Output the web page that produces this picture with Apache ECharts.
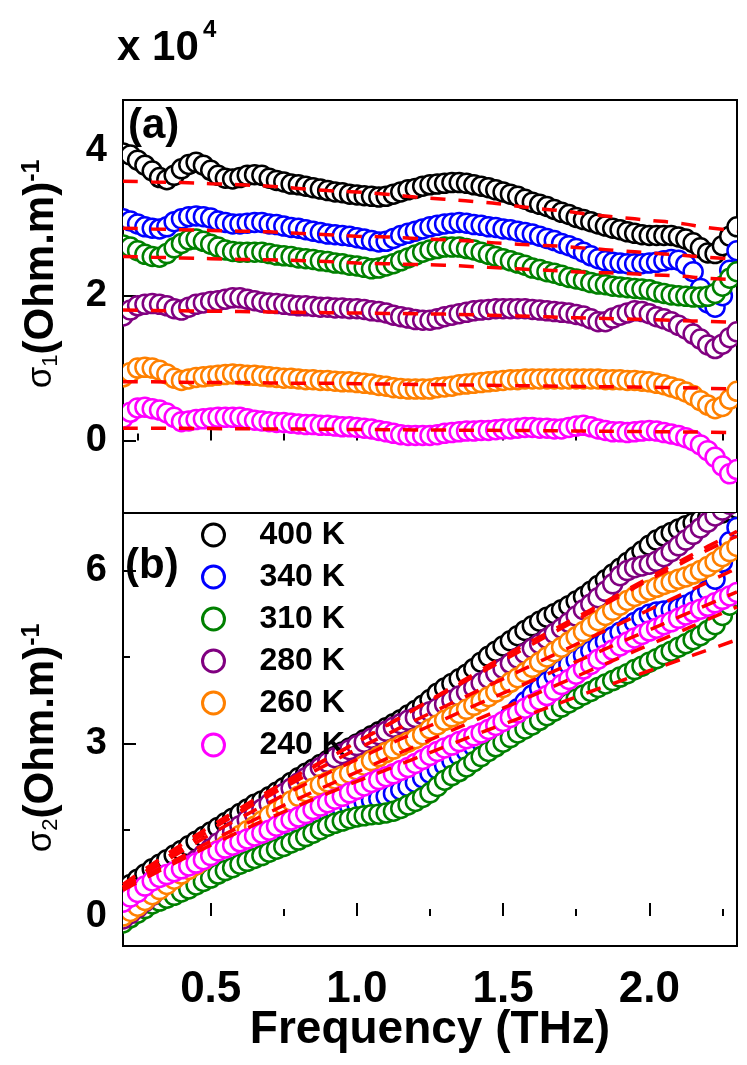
<!DOCTYPE html>
<html>
<head>
<meta charset="utf-8">
<script src="https://cdn.jsdelivr.net/npm/echarts@6.0.0/dist/echarts.min.js"></script>
<style>
html,body{margin:0;padding:0;background:#fff;}
#chart{width:747px;height:1065px;}
</style>
</head>
<body>
<div id="chart"></div>
<script>
// ---------- DATA ----------
const freq = [0.2,0.225,0.25,0.275,0.3,0.325,0.35,0.375,0.4,0.425,
  0.45,0.475,0.5,0.525,0.55,0.575,0.6,0.625,0.65,0.675,
  0.7,0.725,0.75,0.775,0.8,0.825,0.85,0.875,0.9,0.925,
  0.95,0.975,1.0,1.025,1.05,1.075,1.1,1.125,1.15,1.175,
  1.2,1.225,1.25,1.275,1.3,1.325,1.35,1.375,1.4,1.425,
  1.45,1.475,1.5,1.525,1.55,1.575,1.6,1.625,1.65,1.675,
  1.7,1.725,1.75,1.775,1.8,1.825,1.85,1.875,1.9,1.925,
  1.95,1.975,2.0,2.025,2.05,2.075,2.1,2.125,2.15,2.175,
  2.2,2.225,2.25,2.275,2.3];
const fitFreq = [0.2,0.3,0.4,0.5,0.6,0.7,0.8,0.9,1.0,1.1,1.2,1.3,1.4,1.5,1.6,1.7,1.8,1.9,2.0,2.1,2.2,2.3];

const temps = ['400 K','340 K','310 K','280 K','260 K','240 K'];

// sigma_1 (x 10^4) panel (a)
const s1_400 = [3.97,3.94,3.87,3.80,3.72,3.63,3.60,3.66,3.75,3.81,
  3.84,3.80,3.73,3.66,3.62,3.61,3.63,3.66,3.67,3.66,
  3.62,3.59,3.57,3.54,3.53,3.51,3.49,3.47,3.45,3.43,
  3.42,3.40,3.39,3.38,3.37,3.36,3.37,3.40,3.43,3.46,
  3.48,3.51,3.53,3.54,3.55,3.56,3.56,3.55,3.53,3.51,
  3.49,3.46,3.43,3.40,3.37,3.33,3.29,3.26,3.23,3.19,
  3.15,3.12,3.08,3.05,3.02,2.99,2.96,2.93,2.91,2.88,
  2.86,2.84,2.83,2.83,2.83,2.83,2.81,2.78,2.73,2.66,
  2.59,2.58,2.69,2.82,2.95];
const s1_340 = [3.06,3.03,2.99,2.95,2.93,2.92,2.95,3.02,3.06,3.09,
  3.10,3.09,3.07,3.03,3.01,2.99,2.99,3.00,3.01,3.01,
  2.99,2.98,2.96,2.94,2.93,2.91,2.89,2.87,2.85,2.84,
  2.83,2.82,2.80,2.78,2.76,2.74,2.75,2.79,2.83,2.86,
  2.89,2.92,2.95,2.97,2.99,3.00,3.01,3.00,2.98,2.97,
  2.95,2.94,2.92,2.91,2.89,2.87,2.85,2.82,2.79,2.76,
  2.72,2.69,2.65,2.60,2.55,2.51,2.48,2.46,2.45,2.44,
  2.44,2.44,2.45,2.46,2.48,2.50,2.49,2.43,2.33,2.10,
  1.90,1.84,2.00,2.35,2.62];
const s1_310 = [2.70,2.67,2.62,2.57,2.54,2.53,2.58,2.66,2.72,2.77,
  2.78,2.75,2.71,2.67,2.63,2.61,2.60,2.60,2.60,2.60,
  2.58,2.56,2.55,2.54,2.52,2.51,2.50,2.48,2.47,2.45,
  2.44,2.42,2.41,2.39,2.37,2.38,2.41,2.44,2.48,2.52,
  2.56,2.60,2.63,2.65,2.67,2.67,2.67,2.65,2.63,2.60,
  2.57,2.54,2.51,2.48,2.45,2.42,2.38,2.36,2.33,2.31,
  2.28,2.25,2.23,2.21,2.18,2.16,2.15,2.13,2.12,2.11,
  2.10,2.09,2.08,2.05,2.03,2.01,2.00,1.99,1.98,1.98,
  1.99,2.03,2.13,2.24,2.33];
const s1_280 = [1.72,1.80,1.86,1.88,1.89,1.88,1.86,1.82,1.80,1.84,
  1.88,1.90,1.92,1.93,1.95,1.97,1.97,1.95,1.93,1.91,
  1.90,1.89,1.88,1.87,1.86,1.86,1.85,1.84,1.84,1.83,
  1.83,1.82,1.82,1.81,1.79,1.78,1.76,1.73,1.71,1.69,
  1.67,1.66,1.66,1.68,1.71,1.73,1.75,1.77,1.79,1.80,
  1.81,1.82,1.82,1.82,1.82,1.82,1.81,1.80,1.79,1.78,
  1.77,1.76,1.74,1.72,1.68,1.64,1.64,1.69,1.73,1.76,
  1.79,1.78,1.75,1.71,1.68,1.64,1.59,1.54,1.47,1.40,
  1.32,1.27,1.33,1.42,1.50];
const s1_260 = [0.88,0.94,1.00,1.01,1.00,0.97,0.92,0.86,0.83,0.85,
  0.87,0.88,0.89,0.90,0.91,0.92,0.91,0.90,0.90,0.89,
  0.88,0.87,0.86,0.86,0.85,0.84,0.84,0.83,0.83,0.82,
  0.81,0.81,0.80,0.79,0.78,0.76,0.75,0.73,0.72,0.71,
  0.71,0.71,0.71,0.73,0.74,0.75,0.77,0.78,0.79,0.80,
  0.81,0.82,0.83,0.84,0.84,0.85,0.85,0.85,0.85,0.85,
  0.85,0.85,0.85,0.85,0.85,0.85,0.84,0.84,0.84,0.83,
  0.83,0.82,0.81,0.79,0.77,0.74,0.71,0.67,0.62,0.55,
  0.49,0.44,0.47,0.57,0.68];
const s1_240 = [0.31,0.39,0.45,0.46,0.44,0.42,0.38,0.32,0.26,0.27,
  0.29,0.30,0.31,0.32,0.32,0.32,0.32,0.30,0.28,0.27,
  0.26,0.25,0.25,0.24,0.23,0.22,0.22,0.21,0.21,0.20,
  0.19,0.19,0.18,0.17,0.16,0.14,0.12,0.10,0.08,0.07,
  0.07,0.07,0.07,0.08,0.10,0.11,0.12,0.13,0.13,0.14,
  0.14,0.15,0.16,0.16,0.17,0.18,0.18,0.17,0.17,0.16,
  0.16,0.18,0.20,0.21,0.19,0.16,0.14,0.12,0.12,0.11,
  0.12,0.13,0.14,0.13,0.11,0.09,0.07,0.04,0.00,-0.06,
  -0.14,-0.23,-0.35,-0.46,-0.40];

// fits panel (a)
const f1_400 = [3.58,3.57,3.56,3.545,3.53,3.51,3.48,3.45,3.43,3.40,3.36,3.33,3.30,3.26,3.21,3.17,3.12,3.08,3.04,3.00,2.94,2.89];
const f1_340 = [2.93,2.92,2.91,2.90,2.89,2.88,2.86,2.84,2.82,2.81,2.79,2.77,2.75,2.72,2.70,2.68,2.65,2.62,2.59,2.56,2.53,2.50];
const f1_310 = [2.54,2.53,2.52,2.51,2.50,2.495,2.485,2.47,2.45,2.44,2.43,2.42,2.40,2.38,2.36,2.34,2.32,2.31,2.29,2.27,2.24,2.22];
const f1_280 = [1.80,1.795,1.79,1.785,1.78,1.775,1.77,1.765,1.76,1.755,1.75,1.745,1.735,1.725,1.715,1.70,1.69,1.68,1.67,1.655,1.645,1.63];
const f1_260 = [0.81,0.81,0.805,0.80,0.80,0.795,0.79,0.79,0.785,0.78,0.775,0.77,0.765,0.76,0.755,0.75,0.745,0.74,0.735,0.73,0.72,0.71];
const f1_240 = [0.17,0.17,0.168,0.165,0.163,0.16,0.158,0.155,0.152,0.15,0.147,0.145,0.142,0.14,0.137,0.133,0.13,0.127,0.123,0.12,0.115,0.11];

// sigma_2 (x 10^4) panel (b)
const s2_400 = [0.45,0.55,0.64,0.73,0.82,0.90,0.98,1.06,1.14,1.22,
  1.30,1.38,1.46,1.54,1.62,1.70,1.78,1.86,1.94,2.00,
  2.07,2.15,2.23,2.32,2.40,2.48,2.55,2.63,2.70,2.77,
  2.85,2.92,2.99,3.06,3.13,3.20,3.27,3.34,3.41,3.49,
  3.57,3.66,3.76,3.87,3.96,4.04,4.12,4.20,4.30,4.41,
  4.51,4.60,4.69,4.78,4.87,4.96,5.04,5.12,5.19,5.25,
  5.32,5.39,5.47,5.55,5.64,5.74,5.84,5.94,6.04,6.14,
  6.24,6.34,6.44,6.53,6.60,6.66,6.72,6.78,6.83,6.88,
  6.92,6.96,7.00,7.04,7.08];
const s2_340 = [0.22,0.29,0.36,0.45,0.53,0.59,0.65,0.71,0.77,0.83,
  0.88,0.94,1.00,1.06,1.11,1.16,1.21,1.26,1.31,1.36,
  1.41,1.46,1.51,1.56,1.61,1.66,1.70,1.75,1.79,1.83,
  1.87,1.91,1.95,1.98,2.01,2.04,2.08,2.13,2.19,2.25,
  2.32,2.40,2.48,2.55,2.62,2.70,2.78,2.86,2.94,3.03,
  3.13,3.24,3.36,3.48,3.60,3.72,3.84,3.96,4.07,4.18,
  4.28,4.37,4.45,4.53,4.61,4.69,4.77,4.85,4.93,5.01,
  5.10,5.18,5.24,5.28,5.30,5.32,5.35,5.40,5.46,5.55,
  5.66,5.85,6.15,6.50,6.75];
const s2_310 = [-0.12,-0.03,0.05,0.13,0.21,0.26,0.31,0.36,0.42,0.47,
  0.54,0.60,0.66,0.73,0.79,0.84,0.90,0.95,1.00,1.05,
  1.11,1.16,1.21,1.27,1.32,1.38,1.44,1.50,1.56,1.61,
  1.65,1.69,1.72,1.74,1.76,1.77,1.79,1.82,1.87,1.93,
  1.99,2.06,2.14,2.25,2.36,2.44,2.51,2.59,2.68,2.77,
  2.86,2.94,3.02,3.10,3.18,3.25,3.32,3.40,3.48,3.56,
  3.63,3.70,3.77,3.84,3.90,3.97,4.03,4.09,4.15,4.21,
  4.28,4.34,4.41,4.47,4.54,4.60,4.67,4.73,4.80,4.87,
  4.96,5.06,5.22,5.40,5.55];
const s2_280 = [-0.05,0.04,0.14,0.25,0.36,0.47,0.57,0.67,0.77,0.87,
  0.97,1.07,1.17,1.27,1.37,1.47,1.57,1.67,1.77,1.86,
  1.95,2.04,2.13,2.22,2.31,2.40,2.49,2.58,2.67,2.75,
  2.82,2.89,2.96,3.02,3.09,3.15,3.21,3.28,3.34,3.40,
  3.45,3.50,3.55,3.61,3.68,3.75,3.82,3.89,3.97,4.05,
  4.13,4.22,4.30,4.39,4.48,4.56,4.65,4.73,4.82,4.91,
  5.00,5.10,5.21,5.32,5.42,5.53,5.64,5.77,5.91,6.00,
  6.05,6.08,6.11,6.16,6.24,6.33,6.43,6.53,6.63,6.74,
  6.84,6.95,7.05,7.15,7.25];
const s2_260 = [0.00,0.08,0.17,0.27,0.37,0.46,0.55,0.64,0.73,0.81,
  0.89,0.97,1.06,1.14,1.22,1.31,1.40,1.48,1.56,1.65,
  1.74,1.83,1.92,2.00,2.08,2.16,2.22,2.28,2.33,2.38,
  2.43,2.48,2.54,2.62,2.70,2.77,2.84,2.90,2.96,3.02,
  3.08,3.15,3.25,3.32,3.40,3.46,3.52,3.59,3.66,3.73,
  3.81,3.89,3.97,4.06,4.14,4.23,4.32,4.41,4.50,4.59,
  4.67,4.76,4.85,4.94,5.03,5.13,5.22,5.31,5.40,5.48,
  5.55,5.61,5.66,5.71,5.76,5.80,5.85,5.89,5.94,6.00,
  6.07,6.15,6.24,6.33,6.42];
const s2_240 = [0.24,0.33,0.41,0.52,0.61,0.67,0.72,0.77,0.82,0.87,
  0.92,0.98,1.05,1.13,1.18,1.23,1.29,1.34,1.39,1.44,
  1.49,1.56,1.62,1.67,1.72,1.78,1.85,1.91,1.97,2.03,
  2.08,2.14,2.20,2.26,2.32,2.37,2.42,2.47,2.53,2.58,
  2.65,2.72,2.79,2.86,2.92,2.97,3.03,3.08,3.13,3.18,
  3.24,3.31,3.38,3.45,3.53,3.61,3.68,3.75,3.83,3.92,
  4.02,4.11,4.20,4.29,4.37,4.46,4.54,4.62,4.69,4.76,
  4.83,4.89,4.95,5.00,5.06,5.11,5.17,5.23,5.28,5.33,
  5.38,5.44,5.50,5.56,5.62];

// fits panel (b)
const f2_400 = [0.55,0.90,1.24,1.56,1.87,2.17,2.46,2.74,3.02,3.30,3.60,3.90,4.20,4.50,4.78,5.05,5.32,5.60,5.88,6.15,6.42,6.68];
const f2_340 = [0.50,0.82,1.12,1.42,1.70,1.97,2.23,2.48,2.72,2.96,3.19,3.42,3.65,3.87,4.09,4.31,4.53,4.75,4.97,5.19,5.41,5.63];
const f2_310 = [0.45,0.72,0.98,1.23,1.47,1.70,1.92,2.13,2.34,2.54,2.74,2.94,3.14,3.33,3.52,3.71,3.90,4.08,4.26,4.44,4.62,4.80];
const f2_280 = [0.50,0.85,1.18,1.50,1.82,2.13,2.43,2.73,3.02,3.31,3.60,3.88,4.16,4.44,4.72,5.00,5.28,5.56,5.84,6.10,6.36,6.60];
const f2_260 = [0.50,0.85,1.18,1.50,1.80,2.09,2.37,2.64,2.90,3.15,3.40,3.64,3.88,4.12,4.36,4.60,4.84,5.08,5.32,5.56,5.80,6.04];
const f2_240 = [0.48,0.76,1.03,1.30,1.55,1.80,2.04,2.27,2.50,2.73,2.95,3.17,3.39,3.61,3.83,4.05,4.27,4.49,4.71,4.93,5.15,5.37];

// ticks
const xMajorTicks = [0.5,1.0,1.5,2.0];
const xMinorTicks = [0.25,0.75,1.25,1.75,2.25];
const yaMajorTicks = [0,2,4];
const yaMinorTicks = [1,3];
const ybMajorTicks = [0,3,6];
const ybMinorTicks = [1.5,4.5];

// ---------- STYLE ----------
const colors = ['#000000','#0000ff','#008000','#800080','#ff8000','#ff00ff'];
const FONT = '"Liberation Sans", Arial, sans-serif';
const panelA = [s1_400,s1_340,s1_310,s1_280,s1_260,s1_240];
const panelB = [s2_400,s2_340,s2_310,s2_280,s2_260,s2_240];
const fitsA = [f1_400,f1_340,f1_310,f1_280,f1_260,f1_240];
const fitsB = [f2_400,f2_340,f2_310,f2_280,f2_260,f2_240];

function xAx(grid, ticks, len, labels) {
  return {
    type: 'value', gridIndex: grid, position: 'bottom', min: 0.2, max: 2.3,
    axisLine: {show: false}, splitLine: {show: false},
    axisTick: {show: true, inside: true, length: len, customValues: ticks, lineStyle: {color: '#000', width: 2}},
    axisLabel: {show: labels, customValues: ticks, margin: 22, formatter: v => v.toFixed(1),
      fontSize: 44, fontWeight: 'bold', color: '#000', fontFamily: FONT}
  };
}
function yAx(grid, mn, mx, ticks, len, labels) {
  return {
    type: 'value', gridIndex: grid, position: 'left', min: mn, max: mx,
    axisLine: {show: false}, splitLine: {show: false},
    axisTick: {show: true, inside: true, length: len, customValues: ticks, lineStyle: {color: '#000', width: 2}},
    axisLabel: {show: labels, customValues: ticks, margin: 16, formatter: v => String(v),
      fontSize: 38, fontWeight: 'bold', color: '#000', fontFamily: FONT}
  };
}

const series = [];
function addPanel(dataSets, fits, xi, yi) {
  dataSets.forEach((arr, k) => {
    const c = colors[k];
    series.push({
      type: 'custom', name: temps[k], xAxisIndex: xi, yAxisIndex: yi,
      clip: true, silent: true, z: 2,
      itemStyle: {color: '#ffffff', borderColor: c, borderWidth: 2.5},
      encode: {x: 0, y: 1},
      renderItem: function (params, api) {
        const p = api.coord([api.value(0), api.value(1)]);
        return {type: 'circle', shape: {cx: p[0], cy: p[1], r: 9.5},
          style: {fill: '#ffffff', stroke: c, lineWidth: 2.5}};
      },
      data: freq.map((f, i) => [f, arr[i]])
    });
  });
  fits.forEach((arr, k) => {
    series.push({
      type: 'line', name: 'fit ' + temps[k], xAxisIndex: xi, yAxisIndex: yi,
      smooth: true, symbol: 'none', silent: true, z: 5,
      lineStyle: {color: '#ff0000', width: 3.5, type: [15, 13]},
      data: fitFreq.map((f, i) => [f, arr[i]])
    });
  });
}
addPanel(panelA, fitsA, 0, 0);
addPanel(panelB, fitsB, 2, 2);

const sigTitle = (sub) => ({
  type: 'text', rotation: Math.PI / 2,
  style: {
    text: '{g|σ}{s|' + sub + '}{t|(Ohm.m)}{p|-1}',
    align: 'center', verticalAlign: 'middle',
    rich: {
      g: {fontSize: 35, fontFamily: FONT, fill: '#000', fontWeight: 'normal'},
      s: {fontSize: 22, fontFamily: FONT, fill: '#000', verticalAlign: 'bottom'},
      t: {fontSize: 42, fontFamily: FONT, fill: '#000', fontWeight: 'bold'},
      p: {fontSize: 25, fontFamily: FONT, fill: '#000', fontWeight: 'bold', verticalAlign: 'top'}
    }
  }
});

const option = {
  animation: false,
  backgroundColor: '#ffffff',
  grid: [
    {left: 123, right: 10, top: 100, height: 413, show: true, borderColor: '#000', borderWidth: 2, backgroundColor: 'transparent'},
    {left: 123, right: 10, top: 513, height: 433, show: true, borderColor: '#000', borderWidth: 2, backgroundColor: 'transparent'}
  ],
  xAxis: [
    xAx(0, xMajorTicks, 13, false), xAx(0, xMinorTicks, 7, false),
    xAx(1, xMajorTicks, 13, true), xAx(1, xMinorTicks, 7, false)
  ],
  yAxis: [
    yAx(0, -1, 4.7, yaMajorTicks, 13, true), yAx(0, -1, 4.7, yaMinorTicks, 7, false),
    yAx(1, -0.52, 7, ybMajorTicks, 13, true), yAx(1, -0.52, 7, ybMinorTicks, 7, false)
  ],
  legend: {
    data: temps, orient: 'vertical', left: 196, top: 514,
    itemWidth: 22, itemHeight: 22, itemGap: 10, icon: 'circle',
    itemStyle: {color: '#ffffff', borderWidth: 3},
    textStyle: {fontSize: 32, fontWeight: 'bold', color: '#000', fontFamily: FONT, padding: [0, 0, 0, 30]},
    selectedMode: false
  },
  graphic: [
    {type: 'text', x: 117, y: 48, style: {text: 'x 10', fontSize: 42, fontWeight: 'bold', fontFamily: FONT, fill: '#000', align: 'left', verticalAlign: 'middle'}},
    {type: 'text', x: 203, y: 30, style: {text: '4', fontSize: 24, fontWeight: 'bold', fontFamily: FONT, fill: '#000', align: 'left', verticalAlign: 'middle'}},
    Object.assign(sigTitle('1'), {x: 41, y: 274}),
    Object.assign(sigTitle('2'), {x: 41, y: 738}),
    {type: 'text', x: 128, y: 126, style: {text: '(a)', fontSize: 42, fontWeight: 'bold', fontFamily: FONT, fill: '#000', align: 'left', verticalAlign: 'middle'}},
    {type: 'text', x: 125, y: 566, style: {text: '(b)', fontSize: 42, fontWeight: 'bold', fontFamily: FONT, fill: '#000', align: 'left', verticalAlign: 'middle'}},
    {type: 'text', x: 430, y: 1030, style: {text: 'Frequency (THz)', fontSize: 46, fontWeight: 'bold', fontFamily: FONT, fill: '#000', align: 'center', verticalAlign: 'middle'}}
  ],
  series: series
};

const chart = echarts.init(document.getElementById('chart'), null, {renderer: 'canvas'});
chart.setOption(option);
</script>
</body>
</html>
